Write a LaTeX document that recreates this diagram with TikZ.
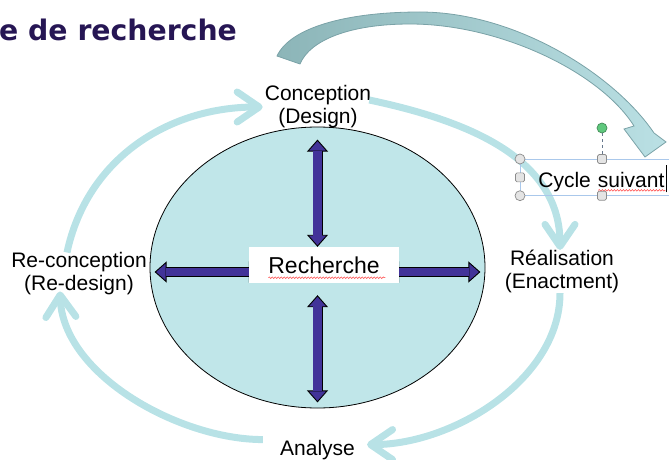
\documentclass[tikz,border=0pt]{standalone}
\usepackage{fontspec}
\setmainfont{Liberation Sans}
\newfontfamily\titrefont{DejaVu Sans}
\usepackage{tikz}
\usetikzlibrary{arrows.meta}
\usetikzlibrary{shapes.geometric}
\usetikzlibrary{backgrounds}
\usetikzlibrary{decorations.pathmorphing}
\definecolor{titreviolet}{RGB}{38,22,84}
\definecolor{fondcercle}{RGB}{192,230,233}
\definecolor{tealcycle}{RGB}{184,226,230}
\definecolor{violetfleche}{RGB}{66,51,153}
\definecolor{rubanfonce}{RGB}{140,181,184}
\definecolor{rubanclair}{RGB}{186,224,228}
\definecolor{bordruban}{RGB}{122,162,167}
\definecolor{bleucadre}{RGB}{170,200,235}
\definecolor{grispoignee}{RGB}{140,140,140}
\definecolor{fondpoignee}{RGB}{228,228,228}
\definecolor{vertpoignee}{RGB}{95,200,125}

\begin{document}
\begin{tikzpicture}[x=1pt,y=1pt]

\tikzstyle{etiquette}=[font=\fontsize{21}{23}\selectfont, align=center, inner sep=0pt]
\tikzstyle{flechebloc}=[draw=black, line width=10pt,
  {Triangle[length=12pt,width=21pt,line width=0.9pt,fill=violetfleche]}-{Triangle[length=12pt,width=21pt,line width=0.9pt,fill=violetfleche]},
  postaction={draw=violetfleche, line width=8.2pt, -, shorten <=11pt, shorten >=11pt}]
\tikzstyle{boucle}=[draw=tealcycle, line width=7pt, -{Straight Barb[length=22pt,width=30pt,round]}]
\tikzstyle{poigneerond}=[circle, draw=grispoignee, fill=fondpoignee, line width=0.7pt, minimum size=10pt, inner sep=0pt]
\tikzstyle{poigneecarre}=[rectangle, rounded corners=1.5pt, draw=grispoignee, fill=fondpoignee, line width=0.7pt, minimum size=9pt, inner sep=0pt]
\tikzstyle{ondule}=[draw=red!75, line width=0.5pt, decorate, decoration={snake, amplitude=0.8pt, segment length=3pt}]

\useasboundingbox (0,0) rectangle (669,459);

\node[anchor=base west, inner sep=0pt, text=titreviolet, font=\titrefont\bfseries\fontsize{28.3}{30}\selectfont] (titre) at (-1,418) {e de recherche};

\node[fill=white, minimum width=150pt, minimum height=36pt, inner sep=0pt, font=\fontsize{23}{26}\selectfont] (rech) at (324,194) {Recherche};
\draw[ondule] ([yshift=-4.5pt]rech.text) -- ++(117pt,0);

\begin{pgfonlayer}{background}
\node[ellipse, draw=black, line width=0.8pt, fill=fondcercle, minimum width=335pt, minimum height=281pt, inner sep=0pt] (cercle) at (317.5,191.5) {};
\coordinate (basRech) at (cercle.center |- rech.south);
\draw[flechebloc] (cercle.center |- rech.north) -- ([yshift=-13pt]cercle.north);
\draw[flechebloc] ([yshift=-12pt]basRech) -- ([yshift=6pt]cercle.south);
\draw[flechebloc] ([shift={(12pt,-7pt)}]rech.west) -- ([shift={(5pt,-4.5pt)}]cercle.west);
\draw[flechebloc] ([shift={(-12pt,-7pt)}]rech.east) -- ([shift={(-5pt,-4.5pt)}]cercle.east);
\end{pgfonlayer}

\node[etiquette] (concept) at (318,352) {Conception\\(Design)};
\node[etiquette] (reconcept) at (79,185) {Re-conception\\(Re-design)};
\node[etiquette] (realisation) at (562,187.5) {Réalisation\\(Enactment)};
\node[etiquette, anchor=base] (analyse) at (317.5,3.5) {Analyse};

\draw[boucle] ([xshift=-12pt]reconcept.north) to[out=78,in=180,looseness=1.0] ([xshift=-2pt]concept.west);
\draw[boucle] ([shift={(-2pt,7pt)}]concept.east) to[out=-12,in=90] ([xshift=-2pt]realisation.north);
\draw[boucle] ([xshift=-2pt]realisation.south) to[out=-90,in=0,looseness=0.9] ([shift={(12pt,5.5pt)}]analyse.east);
\draw[boucle] ([shift={(-17pt,10.5pt)}]analyse.west) to[out=180,in=-88,looseness=0.85] ([shift={(-19pt,4pt)}]reconcept.south);

% fleche vers le cycle suivant
\draw[draw=bordruban, line width=0.8pt, left color=rubanfonce, right color=rubanclair]
  (277,403) .. controls (290,431) and (345,447) .. (420,447)
  .. controls (515,447) and (614,385) .. (654,326)
  -- (666,317) -- (645,302) -- (624,330) -- (634,333)
  .. controls (600,387) and (500,435) .. (410,435)
  .. controls (350,435) and (310,419) .. (300,395) -- cycle;

\node[draw=bleucadre, line width=0.7pt, anchor=north west, align=left, text width=129pt, inner xsep=18pt, inner ysep=6pt, text height=22pt, text depth=2pt, font=\fontsize{21}{23}\selectfont] (suivant) at (520,300) {Cycle suivant};
\draw[ondule] ([shift={(60pt,-3pt)}]suivant.text) -- ++(67pt,0);
\draw[line width=0.6pt] ([shift={(128pt,-5pt)}]suivant.text) -- ++(0,27pt);

\node[poigneecarre] (pc1) at (suivant.west) {};
\node[poigneecarre] (pc2) at ([xshift=82pt]suivant.north west) {};
\node[poigneecarre] (pc3) at ([xshift=82pt]suivant.south west) {};
\node[poigneerond] (pr1) at (suivant.north west) {};
\node[poigneerond] (pr2) at (suivant.south west) {};
\node[circle, draw=vertpoignee!70!black, fill=vertpoignee, line width=0.7pt, minimum size=10pt, inner sep=0pt] (rot) at ([yshift=31pt]pc2) {};
\draw[draw=bleucadre!60!black, line width=0.6pt, dash pattern=on 3pt off 3pt] (rot) -- (pc2);

\end{tikzpicture}
\end{document}
